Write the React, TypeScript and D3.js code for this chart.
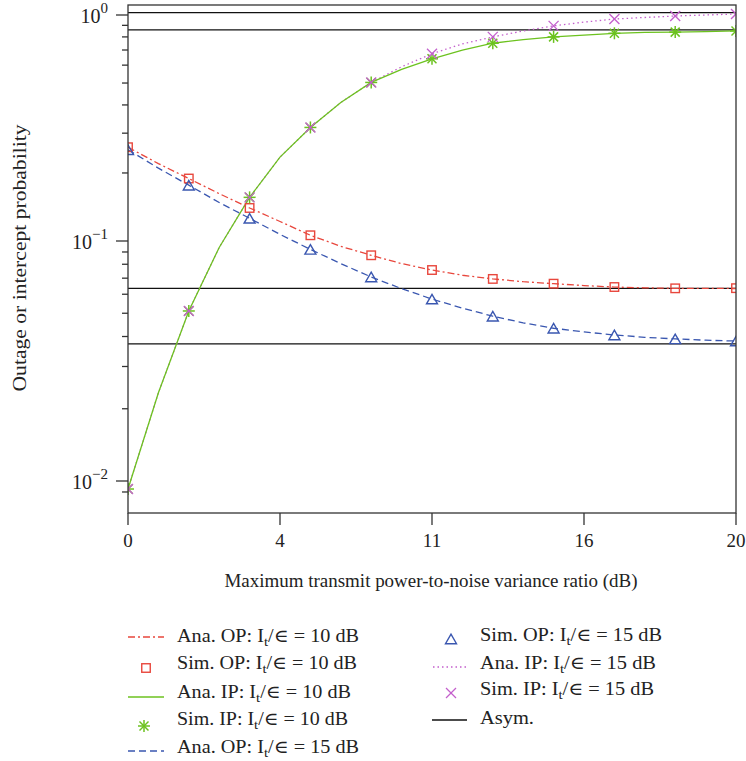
import React from "react";
import * as d3 from "d3";

// ---- data ----
const xAna = [0, 1, 2, 3, 4, 5, 6, 7, 8, 9, 10, 11, 12, 13, 14, 15, 16, 17, 18, 19, 20];
const xSim = [0, 2, 4, 6, 8, 10, 12, 14, 16, 18, 20];
const xTickValues = [0, 5, 10, 15, 20];
const xTickLabels = ["0", "4", "11", "16", "20"];

const anaOP10 = [0.26, 0.22, 0.189, 0.162, 0.14, 0.122, 0.106, 0.095, 0.0872, 0.0805, 0.0757, 0.072, 0.0695, 0.0677, 0.0664, 0.0652, 0.0643, 0.0638, 0.0635, 0.0635, 0.0634];
const simOP10 = [0.26, 0.189, 0.14, 0.106, 0.0872, 0.0757, 0.0695, 0.0664, 0.0643, 0.0635, 0.0636];
const anaIP10 = [0.00926, 0.0233, 0.0511, 0.094, 0.156, 0.235, 0.318, 0.41, 0.503, 0.575, 0.64, 0.7, 0.75, 0.778, 0.8, 0.815, 0.83, 0.838, 0.84, 0.845, 0.85];
const simIP10 = [0.00926, 0.0511, 0.156, 0.318, 0.503, 0.64, 0.75, 0.8, 0.83, 0.84, 0.85];
const anaOP15 = [0.2535, 0.21, 0.1766, 0.148, 0.126, 0.107, 0.0923, 0.0805, 0.0708, 0.0633, 0.0573, 0.0525, 0.0486, 0.0456, 0.0433, 0.0418, 0.0406, 0.0397, 0.0391, 0.0386, 0.0383];
const simOP15 = [0.2535, 0.1766, 0.126, 0.0923, 0.0708, 0.0573, 0.0486, 0.0433, 0.0406, 0.0391, 0.0383];
const anaIP15 = [0.00926, 0.0233, 0.0511, 0.094, 0.156, 0.235, 0.318, 0.41, 0.503, 0.59, 0.674, 0.745, 0.8, 0.85, 0.895, 0.93, 0.96, 0.975, 0.99, 1.0, 1.01];
const simIP15 = [0.00926, 0.0511, 0.156, 0.318, 0.503, 0.674, 0.8, 0.895, 0.96, 0.99, 1.01];
const asymValues = [1.024, 0.859, 0.0635, 0.0373];

const yMajor = [1, 0.1, 0.01];
const yMajorExp = ["0", "\u22121", "\u22122"];
const yMinor = [0.9, 0.8, 0.7, 0.6, 0.5, 0.4, 0.3, 0.2, 0.09, 0.08, 0.07, 0.06, 0.05, 0.04, 0.03, 0.02, 0.009];

const RED = "#e8473d";
const GREEN = "#6cc21f";
const BLUE = "#3a57b0";
const PURPLE = "#c35fcc";
const AXIS = "#333";
const FONT = "'Liberation Serif', 'DejaVu Serif', serif";

const W = 746, H = 761;
const L = 128, R = 736, T = 5, B = 513;

const x = d3.scaleLinear().domain([0, 20]).range([L, R]);
const y = d3.scaleLog().domain([0.01, 0.1, 1]).range([481, 241, 15]);

function Square({ cx, cy, color }: any) {
  const s = 8.5;
  return <rect x={cx - s / 2} y={cy - s / 2} width={s} height={s} fill="none" stroke={color} strokeWidth={1.4} />;
}
function Triangle({ cx, cy, color }: any) {
  const w = 11, h = 9.5;
  const p = `${cx - w / 2},${cy + h / 2} ${cx + w / 2},${cy + h / 2} ${cx},${cy - h / 2}`;
  return <polygon points={p} fill="none" stroke={color} strokeWidth={1.4} />;
}
function Star({ cx, cy, color }: any) {
  const r = 6, d = r * 0.75;
  return (
    <g stroke={color} strokeWidth={1.5}>
      <line x1={cx - r} y1={cy} x2={cx + r} y2={cy} />
      <line x1={cx} y1={cy - r} x2={cx} y2={cy + r} />
      <line x1={cx - d} y1={cy - d} x2={cx + d} y2={cy + d} />
      <line x1={cx - d} y1={cy + d} x2={cx + d} y2={cy - d} />
    </g>
  );
}
function Cross({ cx, cy, color }: any) {
  const d = 5;
  return (
    <g stroke={color} strokeWidth={1.3}>
      <line x1={cx - d} y1={cy - d} x2={cx + d} y2={cy + d} />
      <line x1={cx - d} y1={cy + d} x2={cx + d} y2={cy - d} />
    </g>
  );
}

const line = d3.line<[number, number]>().x((d) => x(d[0])).y((d) => y(d[1]));
const pairs = (xs: number[], ys: number[]) => xs.map((v, i) => [v, ys[i]] as [number, number]);

function LegendLabel({ tx, ty, kind, op, db, len }: any) {
  return (
    <text x={tx} y={ty} fontFamily={FONT} fontSize={18} fill="#222" textLength={len} lengthAdjust="spacingAndGlyphs">
      {kind}. {op}: I<tspan dy={4} fontSize={13}>t</tspan>
      <tspan dy={-4}>/{"\u2208"} = {db} dB</tspan>
    </text>
  );
}

export default function App() {
  const series = [
    { xs: xAna, ys: anaOP10, color: RED, dash: "7,3,2,3" },
    { xs: xAna, ys: anaOP15, color: BLUE, dash: "7,4" },
    { xs: xAna, ys: anaIP15, color: PURPLE, dash: "1.5,3" },
    { xs: xAna, ys: anaIP10, color: GREEN, dash: "" },
  ];
  return (
    <svg width={W} height={H} style={{ position: "absolute", left: 0, top: 0, background: "#fff" }}>
      <defs>
        <clipPath id="plotclip">
          <rect x={L} y={T} width={R - L} height={B - T} />
        </clipPath>
      </defs>
      {/* asymptotes */}
      {asymValues.map((v, i) => (
        <line key={"a" + i} x1={L} x2={R} y1={y(v)} y2={y(v)} stroke="#111" strokeWidth={1.2} />
      ))}
      <g clipPath="url(#plotclip)">
        {series.map((s, i) => (
          <path key={"s" + i} d={line(pairs(s.xs, s.ys)) || ""} fill="none" stroke={s.color} strokeWidth={1.3} strokeDasharray={s.dash} />
        ))}
        {xSim.map((v, i) => <Square key={"sq" + i} cx={x(v)} cy={y(simOP10[i])} color={RED} />)}
        {xSim.map((v, i) => <Triangle key={"tr" + i} cx={x(v)} cy={y(simOP15[i])} color={BLUE} />)}
        {xSim.map((v, i) => <Star key={"st" + i} cx={x(v)} cy={y(simIP10[i])} color={GREEN} />)}
        {xSim.map((v, i) => <Cross key={"cr" + i} cx={x(v)} cy={y(simIP15[i])} color={PURPLE} />)}
      </g>
      {/* frame */}
      <rect x={L} y={T} width={R - L} height={B - T} fill="none" stroke={AXIS} strokeWidth={1.3} />
      {/* y ticks */}
      {yMajor.map((v, i) => (
        <g key={"ym" + i}>
          <line x1={L - 12} x2={L} y1={y(v)} y2={y(v)} stroke={AXIS} strokeWidth={1.3} />
          <text x={L - 20} y={y(v) + 8} textAnchor="end" fontFamily={FONT} fontSize={20} fill="#222">
            10<tspan dy={-10} fontSize={15}>{yMajorExp[i]}</tspan>
          </text>
        </g>
      ))}
      {yMinor.map((v, i) => (
        <line key={"yn" + i} x1={L - 6} x2={L} y1={y(v)} y2={y(v)} stroke={AXIS} strokeWidth={1.3} />
      ))}
      {/* x ticks */}
      {xTickValues.map((v, i) => (
        <g key={"xt" + i}>
          <line x1={x(v)} x2={x(v)} y1={B} y2={B + 12} stroke={AXIS} strokeWidth={1.3} />
          <text x={x(v)} y={B + 34} textAnchor="middle" fontFamily={FONT} fontSize={19} fill="#222">
            {xTickLabels[i]}
          </text>
        </g>
      ))}
      {/* axis titles */}
      <text x={431} y={587} textAnchor="middle" fontFamily={FONT} fontSize={19} fill="#222" textLength={413} lengthAdjust="spacingAndGlyphs">
        Maximum transmit power-to-noise variance ratio (dB)
      </text>
      <text transform="translate(26,258) rotate(-90)" textAnchor="middle" fontFamily={FONT} fontSize={19} fill="#222" textLength={267} lengthAdjust="spacingAndGlyphs">
        Outage or intercept probability
      </text>
      {/* legend left column */}
      <line x1={128} x2={164} y1={637} y2={637} stroke={RED} strokeWidth={1.3} strokeDasharray="7,3,2,3" />
      <LegendLabel tx={177} ty={642} kind="Ana" op="OP" db="10" len={182} />
      <Square cx={146} cy={668} color={RED} />
      <LegendLabel tx={177} ty={669} kind="Sim" op="OP" db="10" len={180} />
      <line x1={128} x2={164} y1={697} y2={697} stroke={GREEN} strokeWidth={1.3} />
      <LegendLabel tx={177} ty={698} kind="Ana" op="IP" db="10" len={174} />
      <Star cx={144} cy={726} color={GREEN} />
      <LegendLabel tx={177} ty={725} kind="Sim" op="IP" db="10" len={171} />
      <line x1={128} x2={164} y1={751} y2={751} stroke={BLUE} strokeWidth={1.3} strokeDasharray="7,4" />
      <LegendLabel tx={177} ty={753} kind="Ana" op="OP" db="15" len={182} />
      {/* legend right column */}
      <Triangle cx={451} cy={639} color={BLUE} />
      <LegendLabel tx={480} ty={641} kind="Sim" op="OP" db="15" len={182} />
      <line x1={433} x2={468} y1={667} y2={667} stroke={PURPLE} strokeWidth={1.3} strokeDasharray="1.5,3" />
      <LegendLabel tx={480} ty={669} kind="Ana" op="IP" db="15" len={176} />
      <Cross cx={451} cy={693} color={PURPLE} />
      <LegendLabel tx={480} ty={695} kind="Sim" op="IP" db="15" len={174} />
      <line x1={432} x2={467} y1={720} y2={720} stroke="#111" strokeWidth={1.3} />
      <text x={480} y={724} fontFamily={FONT} fontSize={18} fill="#222" textLength={54} lengthAdjust="spacingAndGlyphs">Asym.</text>
    </svg>
  );
}
